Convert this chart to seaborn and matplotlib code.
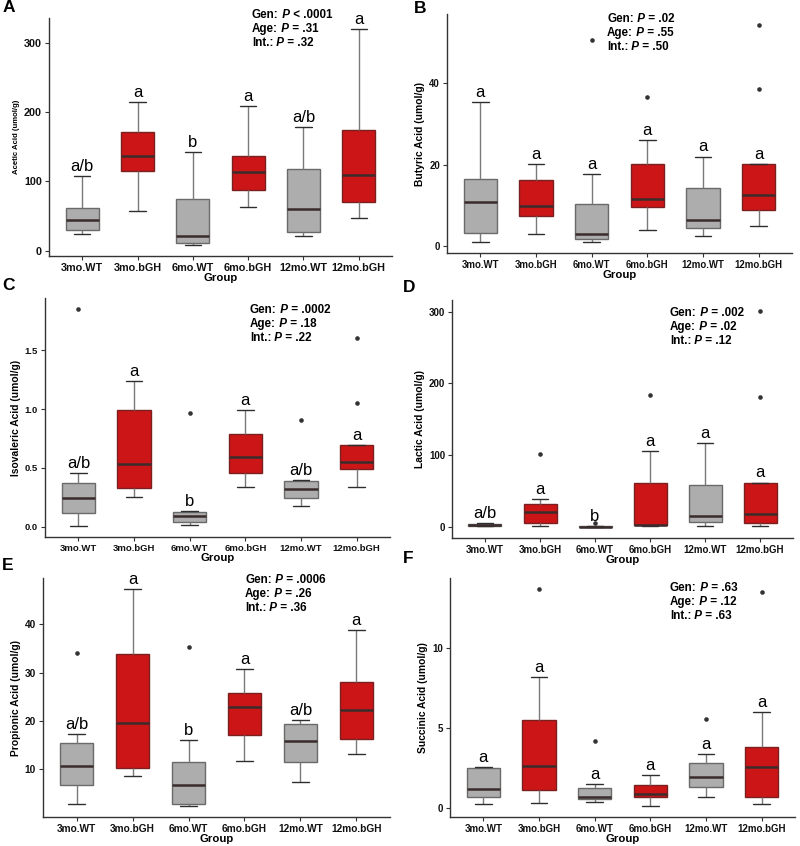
import numpy as np
import pandas as pd
import matplotlib
matplotlib.use("Agg")
import matplotlib.pyplot as plt
import seaborn as sns

sns.set_theme(style="ticks")
plt.rcParams["font.family"] = ["Liberation Sans", "DejaVu Sans"]
plt.rcParams["text.color"] = "black"
plt.rcParams["axes.labelcolor"] = "black"

# ---------------- data ----------------
groups = ["3mo.WT", "3mo.bGH", "6mo.WT", "6mo.bGH", "12mo.WT", "12mo.bGH"]
group_colors = ["#ADADAD", "#CC1517", "#ADADAD", "#CC1517", "#ADADAD", "#CC1517"]

# five-number summaries per group: [lower whisker, Q1, median, Q3, upper whisker]
acetic_box = [[24, 30, 44, 62, 108], [57, 115, 136.5, 171, 214], [8, 10.5, 21, 74.5, 142],
              [62.5, 87.5, 113, 137, 208.6], [21, 27, 59.6, 118, 178], [47.6, 70, 109, 174.5, 320]]
acetic_out = [[], [], [], [], [], []]
acetic_letters = ["a/b", "a", "b", "a", "a/b", "a"]
acetic_stats = ["< .0001", "= .31", "= .32"]
acetic_ticks = [0, 100, 200, 300]

butyric_box = [[1.1, 3.2, 10.8, 16.6, 35.4], [2.9, 7.3, 9.8, 16.2, 20.2], [1.0, 1.7, 2.9, 10.4, 17.8],
               [4.0, 9.5, 11.7, 20.1, 26.1], [2.4, 4.5, 6.4, 14.4, 22.0], [4.9, 8.9, 12.6, 20.2, 20.2]]
butyric_out = [[], [], [50.7], [36.7], [], [54.3, 38.5]]
butyric_letters = ["a", "a", "a", "a", "a", "a"]
butyric_stats = ["= .02", "= .55", "= .50"]
butyric_ticks = [0, 20, 40]

isovaleric_box = [[0.006, 0.119, 0.249, 0.376, 0.458], [0.254, 0.33, 0.534, 0.992, 1.24],
                  [0.014, 0.037, 0.096, 0.124, 0.136], [0.339, 0.46, 0.59, 0.788, 0.994],
                  [0.175, 0.246, 0.325, 0.39, 0.398], [0.342, 0.494, 0.551, 0.695, 0.695]]
isovaleric_out = [[1.85], [], [0.966], [], [0.907], [1.054, 1.605]]
isovaleric_letters = ["a/b", "a", "b", "a", "a/b", "a"]
isovaleric_stats = ["= .0002", "= .18", "= .22"]
isovaleric_ticks = [0.0, 0.5, 1.0, 1.5]

lactic_box = [[1, 1.4, 2.8, 4.1, 5.5], [1.4, 6.4, 21.6, 31.8, 39.1], [0, 0.3, 0.5, 1, 1],
              [1.8, 3.2, 3.7, 61.2, 106.3], [1, 7.4, 16.1, 58.9, 117.4], [1.4, 6, 18.4, 62.1, 62.1]]
lactic_out = [[], [101.2], [6], [184.5], [], [180.9, 301]]
lactic_letters = ["a/b", "a", "b", "a", "a", "a"]
lactic_stats = ["= .002", "= .02", "= .12"]
lactic_ticks = [0, 100, 200, 300]

propionic_box = [[2.9, 6.7, 10.75, 15.4, 17.3], [8.6, 10.3, 19.5, 33.8, 47.3], [2.4, 2.9, 6.7, 11.5, 16],
                 [11.7, 17, 22.9, 25.7, 30.8], [7.3, 11.5, 15.85, 19.3, 20.2], [13.2, 16.3, 22.2, 28, 38.8]]
propionic_out = [[34], [], [35.2], [], [], []]
propionic_letters = ["a/b", "a", "b", "a", "a/b", "a"]
propionic_stats = ["= .0006", "= .26", "= .36"]
propionic_ticks = [10, 20, 30, 40]

succinic_box = [[0.25, 0.67, 1.19, 2.5, 2.55], [0.27, 1.1, 2.65, 5.51, 8.23], [0.33, 0.52, 0.67, 1.23, 1.46],
                [0.1, 0.67, 0.88, 1.42, 2.07], [0.65, 1.32, 1.92, 2.82, 3.38], [0.25, 0.65, 2.57, 3.8, 5.99]]
succinic_out = [[], [13.74], [4.18], [], [5.6], [13.55]]
succinic_letters = ["a", "a", "a", "a", "a", "a"]
succinic_stats = ["= .63", "= .12", "= .63"]
succinic_ticks = [0, 5, 10]

stat_names = ["Gen:", "Age:", "Int.:"]

W, H = 800, 846
fig = plt.figure(figsize=(W / 100, H / 100), dpi=100)

panels = [
    # label, ylabel, box, out, letters, stats, ticks, axes px (l, r, t, b), stat px (x, y), label px, ylabel size, tick size
    ("A", "Acetic Acid (umol/g)", acetic_box, acetic_out, acetic_letters, acetic_stats, acetic_ticks,
     (49, 392, 18, 256), (252, 15), (3, 0), 5.6, 7.8),
    ("B", "Butyric Acid (umol/g)", butyric_box, butyric_out, butyric_letters, butyric_stats, butyric_ticks,
     (447, 792, 14, 253), (607, 19), (414, 1), 7.4, 6.9),
    ("C", "Isovaleric Acid (umol/g)", isovaleric_box, isovaleric_out, isovaleric_letters, isovaleric_stats,
     isovaleric_ticks, (45, 390, 298, 537), (250, 310), (2, 278), 7.4, 6.8),
    ("D", "Lactic Acid (umol/g)", lactic_box, lactic_out, lactic_letters, lactic_stats, lactic_ticks,
     (452, 793, 300, 538), (670, 313), (403, 280), 7.4, 7.0),
    ("E", "Propionic Acid (umol/g)", propionic_box, propionic_out, propionic_letters, propionic_stats,
     propionic_ticks, (43, 390, 578, 817), (245, 580), (2, 558), 7.4, 7.3),
    ("F", "Succinic Acid (umol/g)", succinic_box, succinic_out, succinic_letters, succinic_stats,
     succinic_ticks, (450, 795, 578, 817), (670, 588), (403, 551), 7.4, 7.0),
]

palette = dict(zip(groups, group_colors))

for (lab, ylab, box, out, letters, stats, ticks, apx, spx, lpx, ylsize, tksize) in panels:
    l, r, t, b = apx
    ax = fig.add_axes([l / W, 1 - b / H, (r - l) / W, (b - t) / H])

    box_df = pd.DataFrame({
        "Group": [g for g, vals in zip(groups, box) for _ in vals],
        "value": [v for vals in box for v in vals],
    })
    out_df = pd.DataFrame({
        "Group": [g for g, vals in zip(groups, out) for _ in vals],
        "value": [v for vals in out for v in vals],
    })

    sns.boxplot(data=box_df, x="Group", y="value", hue="Group", order=groups, hue_order=groups,
                palette=palette, saturation=1, whis=(0, 100), width=0.6, showfliers=False,
                linewidth=1.0, linecolor="#6e6e6e", legend=False, ax=ax,
                whiskerprops=dict(color="#7a7a7a", linewidth=1.0),
                capprops=dict(color="#2e2e2e", linewidth=1.0),
                medianprops=dict(color="#3b2c2c", linewidth=1.8))
    for p in ax.patches:
        fc = p.get_facecolor()
        p.set_edgecolor("#7a2020" if fc[0] > fc[1] + 0.2 else "#6a6a6a")

    if len(out_df):
        sns.stripplot(data=out_df, x="Group", y="value", order=groups, jitter=False,
                      color="#333333", size=3.3, linewidth=0, ax=ax)

    allv = [v for vals in box for v in vals] + [v for vals in out for v in vals]
    lo, hi = min(allv), max(allv)
    pad = 0.05 * (hi - lo)
    ax.set_ylim(lo - pad, hi + pad)
    ax.set_xlim(-0.6, len(groups) - 0.4)

    for i, (vals, letter) in enumerate(zip(box, letters)):
        ax.annotate(letter, xy=(i, vals[4]), xytext=(0, 1.5), textcoords="offset points",
                    ha="center", va="bottom", fontsize=12, color="black", annotation_clip=False)

    ax.set_yticks(ticks)
    ax.set_yticklabels([str(v) for v in ticks])
    ax.set_xticks(range(len(groups)))
    ax.set_xticklabels(groups)
    ax.tick_params(axis="both", labelsize=tksize, length=3, width=0.8, color="#333333",
                   labelcolor="#111111", pad=2)
    for tl in ax.get_xticklabels() + ax.get_yticklabels():
        tl.set_fontweight("bold")
    ax.set_xlabel("Group", fontsize=8.2, fontweight="bold", labelpad=0)
    ax.set_ylabel(ylab, fontsize=ylsize, fontweight="bold", labelpad=3)
    for s in ["top", "right"]:
        ax.spines[s].set_visible(False)
    for s in ["left", "bottom"]:
        ax.spines[s].set_linewidth(1.0)
        ax.spines[s].set_color("#333333")
    ax.set_facecolor("white")

    # panel label
    fig.text(lpx[0] / W, 1 - lpx[1] / H, lab, fontsize=12.5, fontweight="bold", ha="left", va="top")

    # statistics text
    for k, (nm, sv) in enumerate(zip(stat_names, stats)):
        y = spx[1] + 14 * k
        t1 = ax.annotate(nm, xy=(spx[0], H - y), xycoords="figure pixels", ha="left", va="center",
                         fontsize=8.4, fontweight="bold", color="black", annotation_clip=False)
        t2 = ax.annotate(" P", xy=(1, 0), xycoords=t1, ha="left", va="bottom", fontsize=8.4,
                         fontweight="bold", fontstyle="italic", color="black", annotation_clip=False)
        ax.annotate(" " + sv, xy=(1, 0), xycoords=t2, ha="left", va="bottom", fontsize=8.4,
                    fontweight="bold", color="black", annotation_clip=False)

fig.savefig("out.png", dpi=100, facecolor="white")
